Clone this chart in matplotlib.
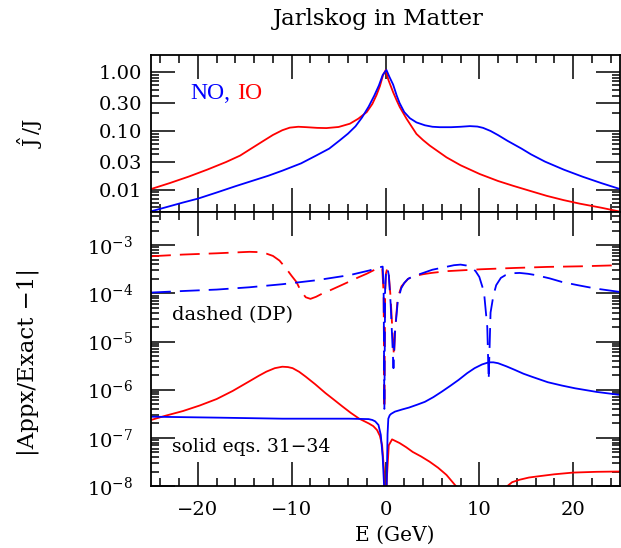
import matplotlib
matplotlib.use("Agg")
import matplotlib.pyplot as plt
from matplotlib.ticker import FixedLocator, MultipleLocator, LogLocator, NullFormatter, FixedFormatter

# ---------------- data ----------------
# top panel: J_hat / J
top_E_red = [-25, -23, -21, -19, -17, -15.5, -14.5, -13, -12, -11, -10.2, -9.3, -8.4, -7.3, -6.3, -5.0,
             -3.8, -2.9, -2.0, -1.4, -0.96, -0.6, -0.26, 0.03,
             0.3, 0.81, 1.2, 1.52, 2.24, 3.3, 4.0, 4.72, 6.5, 8.0, 10.05, 12.0, 13.6, 15.5, 17.2, 19.0,
             20.7, 23.0, 25]
top_red = [0.0102, 0.0129, 0.0166, 0.0219, 0.0295, 0.038, 0.048, 0.068, 0.0855, 0.103, 0.114, 0.118, 0.116,
           0.113, 0.112, 0.117, 0.133, 0.162, 0.21, 0.29, 0.41, 0.58, 0.90, 1.1,
           0.75, 0.46, 0.33, 0.256, 0.162, 0.089, 0.070, 0.0563, 0.0355, 0.026, 0.0184, 0.014, 0.0116,
           0.0094, 0.0078, 0.0066, 0.00575, 0.0049, 0.0042]
top_E_blue = [-25, -23, -21.6, -20, -18, -16, -14.5, -12.5, -11, -9, -7.4, -6, -4.9, -4.0, -3.2, -2.5,
              -1.8, -1.2, -0.7, -0.3, 0.1,
              0.4, 0.81, 1.2, 1.5, 2.0, 2.6, 3.3, 4.2, 5.0, 5.8, 7.0, 8.0, 9.0, 9.8, 10.4, 11.2, 12.0,
              13.0, 14.5, 15.5, 17.0, 19.0, 21.0, 23.0, 25]
top_blue = [0.00425, 0.0052, 0.006, 0.007, 0.0089, 0.0114, 0.0136, 0.0172, 0.021, 0.028, 0.038, 0.050,
            0.0687, 0.090, 0.120, 0.170, 0.26, 0.40, 0.60, 0.90, 1.1,
            0.85, 0.62, 0.40, 0.30, 0.21, 0.165, 0.14, 0.125, 0.118, 0.116, 0.116, 0.118, 0.121, 0.119,
            0.113, 0.100, 0.085, 0.068, 0.050, 0.040, 0.030, 0.0219, 0.0166, 0.0129, 0.0102]

# bottom panel: |Appx/Exact - 1|, dashed (DP)
dash_E_red = [-25, -21.6, -18.0, -14.5, -13.5, -12.7, -12.0, -11.3, -10.6, -10.0, -9.5, -9.0, -8.5, -8.0,
              -7.4, -6.7, -5.9, -4.8, -3.8, -2.9, -2.0, -1.3,
              -0.8, -0.35, -0.2, -0.12, -0.04, 0.05, 0.2, 0.35, 0.55, 0.75, 0.9, 1.05, 1.3, 1.7, 2.4,
              3.1, 4.0, 4.9, 6.6, 10.2, 13.7, 17.3, 20.8, 25]
dash_red = [5.9e-4, 6.4e-4, 6.8e-4, 7.3e-4, 7.2e-4, 6.7e-4, 6.0e-4, 4.8e-4, 3.3e-4, 2.3e-4, 1.73e-4,
            1.1e-4, 8.3e-5, 7.7e-5, 8.5e-5, 1.0e-4, 1.16e-4, 1.45e-4, 1.78e-4, 2.15e-4, 2.56e-4, 3.0e-4,
            3.3e-4, 3.4e-4, 1.0e-4, 4e-7, 1.0e-4, 2.6e-4, 3.4e-4, 2.5e-4,
            8e-5, 1.5e-5, 5e-6, 2e-5, 8e-5, 1.4e-4, 2.0e-4, 2.3e-4, 2.5e-4, 2.66e-4, 2.9e-4, 3.17e-4,
            3.37e-4, 3.55e-4, 3.65e-4, 3.85e-4]
dash_E_blue = [-25, -21.6, -18.0, -14.5, -11.0, -7.4, -3.8, -1.7, -0.6, -0.3, -0.2, -0.12, -0.04, 0.05,
               0.2, 0.35, 0.55, 0.75, 0.85, 1.0, 1.3, 1.66, 2.0, 2.4, 3.0, 3.8, 5.0, 6.6, 7.3, 8.0, 8.6,
               9.1, 9.6, 10.0, 10.5, 10.85, 11.0, 11.2, 11.5, 11.8, 12.3, 12.8, 13.5, 14.3, 15.2, 16.0,
               17.5, 18.8, 20.5, 22.4, 25]
dash_blue = [1.04e-4, 1.12e-4, 1.2e-4, 1.34e-4, 1.55e-4, 1.87e-4, 2.4e-4, 3.0e-4, 3.5e-4, 3.6e-4, 1.2e-4,
             4e-7, 1.2e-4, 2.8e-4, 3.4e-4, 2.4e-4, 6e-5, 8e-6, 2.8e-6, 1.5e-5, 6.6e-5, 1.26e-4, 1.65e-4,
             2.0e-4, 2.3e-4, 2.57e-4, 3.1e-4, 3.6e-4, 3.85e-4, 3.96e-4, 3.8e-4, 3.55e-4, 2.9e-4, 2.2e-4,
             1.07e-4, 2e-5, 1.6e-6, 4e-5, 9e-5, 1.48e-4, 2.1e-4, 2.4e-4, 2.62e-4, 2.66e-4, 2.55e-4,
             2.4e-4, 2.05e-4, 1.73e-4, 1.48e-4, 1.26e-4, 1.07e-4]

# bottom panel: solid (eqs. 31-34)
solid_E_red = [-25, -23.4, -21.6, -19.8, -18.0, -16.3, -14.5, -13.5, -12.7, -11.8, -11.0, -10.4, -9.9,
               -9.2, -8.5, -7.5, -6.4, -5.5, -4.6, -3.7, -2.8, -1.8, -1.3, -0.9, -0.6, -0.36, -0.15,
               -0.05, 0.05, 0.15, 0.35, 0.7, 1.5, 2.2, 2.9, 3.8, 4.7, 5.6, 6.5, 7.5, 8.5,
               10.0, 11.5, 13.0, 13.5, 14.3, 15.3, 16.4, 18.0, 20.0, 22.5, 25]
solid_red = [2.35e-7, 2.9e-7, 3.6e-7, 4.7e-7, 6.4e-7, 9.4e-7, 1.5e-6, 1.95e-6, 2.37e-6, 2.8e-6, 3.0e-6,
             2.95e-6, 2.8e-6, 2.35e-6, 1.86e-6, 1.3e-6, 8.5e-7, 6.2e-7, 4.5e-7, 3.3e-7, 2.5e-7, 2.0e-7,
             1.75e-7, 1.45e-7, 1.1e-7, 7e-8, 2e-8, 3e-9, 3e-9, 1.5e-8, 7e-8, 9.3e-8, 7.8e-8, 6.4e-8,
             5.1e-8, 4.1e-8, 3.2e-8, 2.4e-8, 1.7e-8, 1.0e-8, 5e-9, 2e-9, 4e-9, 1.0e-8, 1.2e-8, 1.35e-8,
             1.5e-8, 1.6e-8, 1.75e-8, 1.9e-8, 1.97e-8, 2.0e-8]
solid_E_blue = [-25, -18, -11, -3.9, -1.8, -1.4, -1.1, -0.75, -0.5, -0.3, -0.15, -0.05, 0.05, 0.15, 0.22,
                0.3, 0.45, 0.6, 1.0, 1.8, 2.5, 3.4, 4.2, 5.1, 6.0, 6.9, 7.8, 8.7, 9.5, 10.3, 11.0, 11.5,
                12.0, 12.9, 13.8, 14.7, 15.6, 17.3, 18.8, 20.2, 22.5, 25]
solid_blue = [2.75e-7, 2.63e-7, 2.5e-7, 2.5e-7, 2.45e-7, 2.35e-7, 2.2e-7, 1.85e-7, 1.15e-7, 4e-8, 1e-8,
              2e-9, 2e-9, 2e-8, 1.2e-7, 2.5e-7, 2.95e-7, 3.15e-7, 3.5e-7, 3.9e-7, 4.25e-7, 4.9e-7,
              5.6e-7, 7.0e-7, 9.1e-7, 1.2e-6, 1.6e-6, 2.2e-6, 2.8e-6, 3.35e-6, 3.7e-6, 3.7e-6, 3.55e-6,
              3.05e-6, 2.57e-6, 2.15e-6, 1.86e-6, 1.43e-6, 1.22e-6, 1.07e-6, 9.0e-7, 7.8e-7]

top_ticks = [0.01, 0.03, 0.1, 0.3, 1.0]
top_ticklabels = ["0.01", "0.03", "0.10", "0.30", "1.00"]
bot_ticks = [1e-8, 1e-7, 1e-6, 1e-5, 1e-4, 1e-3]
bot_ticklabels = [r"$10^{-8}$", r"$10^{-7}$", r"$10^{-6}$", r"$10^{-5}$", r"$10^{-4}$", r"$10^{-3}$"]
x_ticks = [-20, -10, 0, 10, 20]
x_ticklabels = ["\u221220", "\u221210", "0", "10", "20"]

# ---------------- style ----------------
plt.rcParams["font.family"] = ["DejaVu Serif"]
plt.rcParams["mathtext.fontset"] = "dejavuserif"
W, H = 621, 548
fig = plt.figure(figsize=(W / 100, H / 100), dpi=100)

def fx(px):
    return px / W

def fy(py):
    return 1 - py / H

L, R = 151, 620
ax1 = fig.add_axes([fx(L), fy(212), fx(R - L), (212 - 55) / H])
ax2 = fig.add_axes([fx(L), fy(486), fx(R - L), (486 - 212) / H])

RED, BLUE = "#ff0000", "#0000ff"
LW = 1.3

ax1.plot(top_E_red, top_red, color=RED, lw=LW)
ax1.plot(top_E_blue, top_blue, color=BLUE, lw=LW)

l1, = ax2.plot(dash_E_red, dash_red, color=RED, lw=LW)
l2, = ax2.plot(dash_E_blue, dash_blue, color=BLUE, lw=LW)
for l in (l1, l2):
    l.set_dashes([11, 5])
ax2.plot(solid_E_red, solid_red, color=RED, lw=LW)
ax2.plot(solid_E_blue, solid_blue, color=BLUE, lw=LW)

for ax in (ax1, ax2):
    ax.set_xlim(-25, 25)
    ax.set_yscale("log")
    ax.xaxis.set_major_locator(FixedLocator(x_ticks))
    ax.xaxis.set_minor_locator(MultipleLocator(2))
    ax.yaxis.set_minor_locator(LogLocator(base=10, subs=[2, 3, 4, 5, 6, 7, 8, 9], numticks=50))
    ax.yaxis.set_minor_formatter(NullFormatter())
    ax.tick_params(which="both", direction="in", top=True, right=True, width=1.1, colors="black")
    ax.tick_params(which="major", length=17.3)
    ax.tick_params(which="minor", length=5.8)
    for s in ax.spines.values():
        s.set_linewidth(1.3)

ax1.set_ylim(0.00414, 1.98)
ax1.yaxis.set_major_locator(FixedLocator(top_ticks))
ax1.yaxis.set_major_formatter(FixedFormatter(top_ticklabels))
ax1.tick_params(axis="y", which="major", pad=6.5, labelsize=14)
ax1.tick_params(axis="x", labelbottom=False)

ax2.set_ylim(1e-8, 4.9e-3)
ax2.yaxis.set_major_locator(FixedLocator(bot_ticks))
ax2.yaxis.set_major_formatter(FixedFormatter(bot_ticklabels))
ax2.tick_params(axis="y", which="major", pad=13, labelsize=14)
ax2.xaxis.set_major_formatter(FixedFormatter(x_ticklabels))
ax2.tick_params(axis="x", which="major", pad=10.5, labelsize=14)

# texts
fig.text(fx(378.5), fy(19), "Jarlskog in Matter", ha="center", va="center", fontsize=16.5)
fig.text(fx(30), fy(133), r"$\hat{\mathrm{J}}\,$/J", rotation=90, ha="center", va="center", fontsize=15)
fig.text(fx(28), fy(362), "|Appx/Exact \u22121|", rotation=90, ha="center", va="center", fontsize=16.5)
fig.text(fx(395), fy(535), "E (GeV)", ha="center", va="center", fontsize=14.5)
fig.text(fx(190), fy(99.3), "NO,", ha="left", va="baseline", fontsize=17, color=BLUE, family="Liberation Serif")
fig.text(fx(236.7), fy(99.3), "IO", ha="left", va="baseline", fontsize=17, color=RED, family="Liberation Serif")
fig.text(fx(171.7), fy(320.3), "dashed (DP)", ha="left", va="baseline", fontsize=14)
fig.text(fx(171.7), fy(452.5), "solid eqs. 31\u221234", ha="left", va="baseline", fontsize=13.5)

fig.savefig("out.png", dpi=100)
